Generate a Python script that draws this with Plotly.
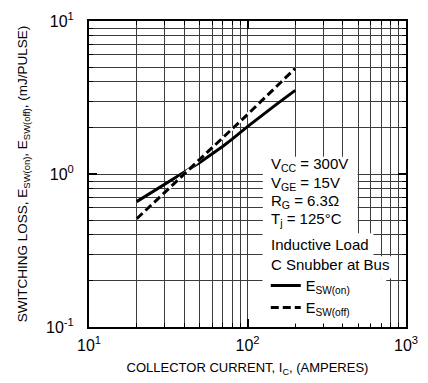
import plotly.graph_objects as go

# ---- data ----
on_current = [20, 30, 40, 50, 60, 70, 80, 100, 150, 200]
on_loss = [0.66, 0.85, 1.03, 1.19, 1.35, 1.52, 1.69, 2.04, 2.82, 3.52]
off_current = [20, 40, 100, 200]
off_loss = [0.51, 1.0, 2.45, 4.9]

x_tickvals = [10, 100, 1000]
x_ticktext = ["10<sup>1</sup>", "10<sup>2</sup>", "10<sup>3</sup>"]
y_tickvals = [0.1, 1, 10]
y_ticktext = ["10<sup>-1</sup>", "10<sup>0</sup>", "10<sup>1</sup>"]

cond_lines = ["V<sub>CC</sub> = 300V", "V<sub>GE</sub> = 15V", "R<sub>G</sub> = 6.3Ω",
              "T<sub>j</sub> = 125°C", "Inductive Load", "C Snubber at Bus"]

W, H = 428, 383
L, R, T, B = 89, 18, 10, 53
PW, PH = W - L - R, H - T - B


def xp(px):
    return (px - L) / PW


def yp(py):
    return (H - B - py) / PH


FONT = "Liberation Sans, Arial, sans-serif"

fig = go.Figure()
fig.add_trace(go.Scatter(x=on_current, y=on_loss, mode="lines", name="E<sub>SW(on)</sub>",
                         line=dict(color="black", width=3)))
fig.add_trace(go.Scatter(x=off_current, y=off_loss, mode="lines", showlegend=False,
                         hoverinfo="skip", line=dict(color="white", width=3)))
fig.add_trace(go.Scatter(x=off_current, y=off_loss, mode="lines", name="E<sub>SW(off)</sub>",
                         line=dict(color="black", width=3, dash="8px,4px")))

# white background of the condition box (stops a few px above the axis so the
# grid stubs read as the small inside ticks of the reference)
rects = [
    (265, 361, 152, 326),
    (265, 377, 232, 326),
    (265, 399, 256, 279),
    (265, 390, 279, 326),
]
for x0, x1, y0, y1 in rects:
    fig.add_shape(type="rect", xref="paper", yref="paper", x0=xp(x0), x1=xp(x1),
                  y0=yp(y1), y1=yp(y0), fillcolor="white", line=dict(width=0), layer="above")

row_y = [160, 180, 199, 218, 244, 265]
for txt, ry in zip(cond_lines, row_y):
    fig.add_annotation(x=xp(271), y=yp(ry), xref="paper", yref="paper", text=txt,
                       showarrow=False, xanchor="left", yanchor="middle",
                       font=dict(family=FONT, size=15, color="black"))

grid_color = "#3c3c3c"
fig.update_xaxes(type="log", range=[1, 3], tickmode="array", tickvals=x_tickvals,
                 ticktext=x_ticktext, showgrid=False, ticks="inside", ticklen=8, tickwidth=2,
                 tickcolor="black", showline=True, linecolor="black", linewidth=2, mirror="ticks",
                 tickfont=dict(family=FONT, size=16, color="black"), ticklabelstandoff=3,
                 minor=dict(dtick="D1", showgrid=True, gridcolor=grid_color, gridwidth=1,
                            ticks="inside", ticklen=4, tickcolor="black", tickwidth=1),
                 title=dict(text="COLLECTOR CURRENT, I<sub>C</sub>, (AMPERES)", standoff=10,
                            font=dict(family=FONT, size=13, color="black")),
                 zeroline=False)
fig.update_yaxes(type="log", range=[-1, 1], tickmode="array", tickvals=y_tickvals,
                 ticktext=y_ticktext, showgrid=False, ticks="inside", ticklen=8, tickwidth=2,
                 tickcolor="black", showline=True, linecolor="black", linewidth=2, mirror="ticks",
                 tickfont=dict(family=FONT, size=16, color="black"), ticklabelstandoff=10,
                 minor=dict(dtick="D1", showgrid=True, gridcolor=grid_color, gridwidth=1,
                            ticks="inside", ticklen=4, tickcolor="black", tickwidth=1),
                 title=dict(text="SWITCHING LOSS, E<sub>SW(on)</sub>, E<sub>SW(off)</sub>, (mJ/PULSE)",
                            standoff=15, font=dict(family=FONT, size=13.5, color="black")),
                 zeroline=False)

fig.update_layout(
    width=W, height=H, margin=dict(l=L, r=R, t=T, b=B),
    paper_bgcolor="white", plot_bgcolor="white",
    font=dict(family=FONT, color="black"),
    showlegend=True,
    legend=dict(x=xp(268), y=yp(270), xanchor="left", yanchor="top",
                bgcolor="rgba(0,0,0,0)", borderwidth=0,
                font=dict(family=FONT, size=14.5, color="black"),
                itemwidth=30, tracegroupgap=0),
)

fig.write_html("out.html")
